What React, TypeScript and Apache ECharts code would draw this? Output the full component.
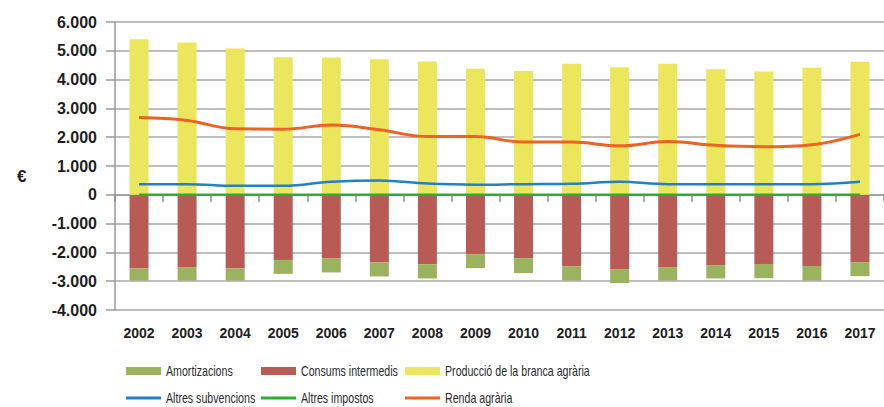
import React, { useEffect, useRef } from "react";
import * as echarts from "echarts";

const years: string[] = ["2002","2003","2004","2005","2006","2007","2008","2009","2010","2011","2012","2013","2014","2015","2016","2017"];
const produccio: number[] = [5400,5290,5080,4780,4770,4710,4630,4380,4300,4550,4430,4550,4360,4280,4410,4620];
const consums: number[] = [-2560,-2510,-2560,-2260,-2210,-2350,-2410,-2070,-2200,-2490,-2580,-2510,-2440,-2400,-2470,-2340];
const amortitzacions: number[] = [-415,-465,-415,-485,-485,-485,-495,-475,-520,-485,-485,-465,-465,-495,-505,-485];
const subvencions: number[] = [370,370,310,310,450,500,390,350,370,380,450,370,370,370,370,450];
const impostos: number[] = [0,0,0,0,0,0,0,0,0,0,0,0,0,0,0,0];
const renda: number[] = [2680,2580,2290,2280,2420,2260,2020,2020,1830,1830,1700,1850,1720,1670,1740,2100];

const seriesNames: string[] = [
  "Amortizacions",
  "Consums intermedis",
  "Producció de la branca agrària",
  "Altres subvencions",
  "Altres impostos",
  "Renda agrària",
];

const C_AMORT = "#9bb25f";
const C_CONS = "#b95b55";
const C_PROD = "#ebe75c";
const C_SUBV = "#2180c6";
const C_IMP = "#2cb02c";
const C_RENDA = "#ee6222";

const FONT = "'Liberation Sans', Arial, sans-serif";

export default function App() {
  const ref = useRef<HTMLDivElement>(null);
  useEffect(() => {
    if (!ref.current) return;
    const chart = echarts.init(ref.current, undefined, { renderer: "svg" });
    const colLeft = [126, 261, 405];
    const rowMid = [371, 398];
    const mkLegend = (idx: number) => {
      const isLine = idx >= 3;
      const h = isLine ? 3 : 8;
      return {
        show: true,
        left: colLeft[idx % 3],
        top: rowMid[isLine ? 1 : 0] - h / 2,
        data: [seriesNames[idx]],
        icon: "rect",
        itemWidth: 35,
        itemHeight: h,
        itemGap: 0,
        padding: 0,
        formatter: () => "",
        textStyle: { fontSize: 1 },
        selectedMode: false,
      };
    };
    const legendTexts = seriesNames.map((name, idx) => ({
      type: "text",
      x: colLeft[idx % 3] + 40,
      y: rowMid[idx >= 3 ? 1 : 0],
      scaleX: 0.76,
      style: {
        text: name,
        fontSize: 14,
        fontFamily: FONT,
        fill: "#2a2a2a",
        verticalAlign: "middle",
        align: "left",
      },
    }));
    const option: any = {
      animation: false,
      backgroundColor: "#ffffff",
      grid: { left: 115, top: 22, width: 776, height: 288 },
      legend: seriesNames.map((_, i) => mkLegend(i)),
      graphic: [
        {
          type: "text",
          left: 17,
          top: 168,
          style: { text: "€", fontSize: 17, fontFamily: FONT, fontWeight: "bold", fill: "#222" },
        },
        ...legendTexts,
      ],
      xAxis: [
        {
          type: "category",
          data: years,
          position: "bottom",
          axisLine: { show: true, onZero: true, lineStyle: { color: "#9a9a9a", width: 1.5 } },
          axisTick: { show: true, length: 7, lineStyle: { color: "#8a8a8a", width: 1.5 } },
          axisLabel: { show: false },
          splitLine: { show: false },
          z: 1,
        },
        {
          type: "category",
          data: years,
          position: "bottom",
          axisLine: { show: false, onZero: false },
          axisTick: { show: false },
          axisLabel: { show: true, margin: 16, fontSize: 14, fontWeight: "bold", color: "#1e1e1e", fontFamily: FONT },
          splitLine: { show: false },
        },
      ],
      yAxis: {
        type: "value",
        min: -4000,
        max: 6000,
        interval: 1000,
        axisLine: { show: true, lineStyle: { color: "#9a9a9a", width: 1.5 } },
        axisTick: { show: true, length: 9, lineStyle: { color: "#9a9a9a", width: 1.5 } },
        splitLine: { show: true, lineStyle: { color: "#a8a8a8", width: 1.5 } },
        axisLabel: {
          margin: 18,
          fontSize: 16,
          fontWeight: "bold",
          color: "#1e1e1e",
          fontFamily: FONT,
          formatter: (v: number) => (v === 0 ? "0" : (v < 0 ? "-" : "") + Math.abs(v) / 1000 + ".000"),
        },
      },
      series: [
        {
          name: seriesNames[1],
          type: "bar",
          stack: "total",
          data: consums,
          barWidth: 19,
          itemStyle: { color: C_CONS },
        },
        {
          name: seriesNames[0],
          type: "bar",
          stack: "total",
          data: amortitzacions,
          barWidth: 19,
          itemStyle: { color: C_AMORT },
        },
        {
          name: seriesNames[2],
          type: "bar",
          stack: "total",
          data: produccio,
          barWidth: 19,
          itemStyle: { color: C_PROD },
        },
        {
          name: seriesNames[3],
          type: "line",
          data: subvencions,
          smooth: 0.4,
          symbol: "none",
          lineStyle: { color: C_SUBV, width: 2.5 },
          itemStyle: { color: C_SUBV },
          z: 5,
        },
        {
          name: seriesNames[4],
          type: "line",
          data: impostos,
          smooth: 0.4,
          symbol: "none",
          lineStyle: { color: C_IMP, width: 2.5 },
          itemStyle: { color: C_IMP },
          z: 5,
        },
        {
          name: seriesNames[5],
          type: "line",
          data: renda,
          smooth: 0.4,
          symbol: "none",
          lineStyle: { color: C_RENDA, width: 3 },
          itemStyle: { color: C_RENDA },
          z: 6,
        },
      ],
    };
    chart.setOption(option);
    return () => chart.dispose();
  }, []);
  return (
    <div
      ref={ref}
      style={{ position: "fixed", left: 0, top: 0, width: 884, height: 407, background: "#fff" }}
    />
  );
}
